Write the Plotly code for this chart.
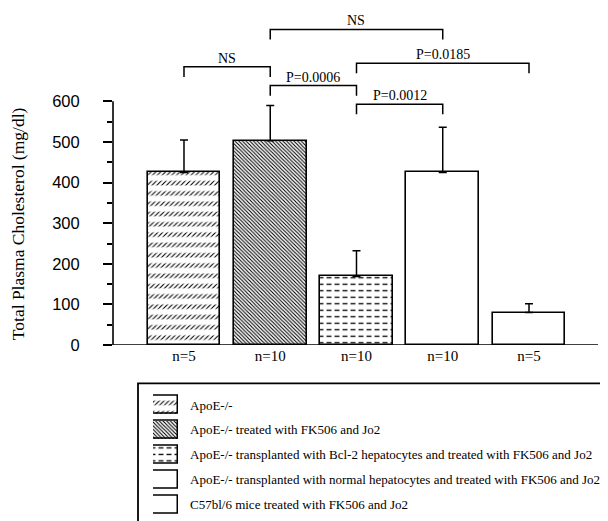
import plotly.graph_objects as go

# ---------------- data ----------------
groups = [0, 1, 2, 3, 4]
n_labels = ["n=5", "n=10", "n=10", "n=10", "n=5"]
cholesterol = [425, 503, 169, 425, 80]
sem = [80, 87, 63, 111, 22]

legend_labels = [
    "ApoE-/-",
    "ApoE-/- treated with FK506 and Jo2",
    "ApoE-/- transplanted with Bcl-2 hepatocytes and treated with FK506 and Jo2",
    "ApoE-/- transplanted with normal hepatocytes and treated with FK506 and Jo2",
    "C57bl/6 mice treated with FK506 and Jo2",
]

# significance brackets: (left group, right group, height, label)
br_left = [0, 1, 1, 2, 2]
br_right = [1, 2, 3, 4, 3]
br_height = [685, 639, 777, 694, 593]
br_label = ["NS", "P=0.0006", "NS", "P=0.0185", "P=0.0012"]
br_drop = 25

y_ticks = [0, 100, 200, 300, 400, 500, 600]
y_minor = [50, 150, 250, 350, 450, 550]

# ---------------- styles ----------------
pat_shape = ["/", "\\", "-", "", ""]
pat_size = [3.4, 2.6, 6.5, 8, 8]
pat_solid = [0.32, 0.42, 0.2, 0.3, 0.3]
mask_shape = ["-", "", "|", "", ""]
mask_size = [10.3, 8, 8, 8, 8]
mask_solid = [0.56, 0.3, 0.38, 0.3, 0.3]

SERIF = "Liberation Serif, Times New Roman, serif"
SANS = "Liberation Sans, Arial, sans-serif"

fig = go.Figure()

# base hatch layer
fig.add_trace(go.Bar(
    x=groups, y=cholesterol, width=0.846,
    marker=dict(color="white", line=dict(width=0),
                pattern=dict(shape=pat_shape, size=pat_size, solidity=pat_solid,
                             fgcolor="black", bgcolor="white", fillmode="replace")),
    showlegend=False, hoverinfo="skip",
))
# mask + outline + error bars
fig.add_trace(go.Bar(
    x=groups, y=cholesterol, width=0.846,
    marker=dict(color="rgba(0,0,0,0)", line=dict(width=1.6, color="black"),
                pattern=dict(shape=mask_shape, size=mask_size, solidity=mask_solid,
                             fgcolor="white", bgcolor="rgba(0,0,0,0)", fillmode="replace")),
    error_y=dict(type="data", array=sem, arrayminus=[0] * len(sem), symmetric=False,
                 color="black", thickness=1.5, width=4),
    showlegend=False,
))

# legend swatches (second, hidden axes)
rows = list(range(len(legend_labels)))
fig.add_trace(go.Bar(
    x=[1] * len(rows), y=rows, orientation="h", width=0.72,
    xaxis="x2", yaxis="y2",
    marker=dict(color="white", line=dict(width=0),
                pattern=dict(shape=pat_shape, size=pat_size, solidity=pat_solid,
                             fgcolor="black", bgcolor="white", fillmode="replace")),
    showlegend=False, hoverinfo="skip",
))
fig.add_trace(go.Bar(
    x=[1] * len(rows), y=rows, orientation="h", width=0.72,
    xaxis="x2", yaxis="y2",
    marker=dict(color="rgba(0,0,0,0)", line=dict(width=1.5, color="black"),
                pattern=dict(shape=mask_shape, size=mask_size, solidity=mask_solid,
                             fgcolor="white", bgcolor="rgba(0,0,0,0)", fillmode="replace")),
    showlegend=False, hoverinfo="skip",
))

shapes = []
annotations = []

# y axis line from 0 to 600
shapes.append(dict(type="line", xref="x domain", yref="y", x0=0, x1=0,
                   y0=y_ticks[0], y1=y_ticks[-1], line=dict(color="black", width=1.6)))
# baseline
shapes.append(dict(type="line", xref="x domain", yref="y", x0=0, x1=1,
                   y0=0, y1=0, line=dict(color="black", width=1.6)))

# brackets
for a, b, h, lab in zip(br_left, br_right, br_height, br_label):
    shapes.append(dict(type="path", xref="x", yref="y",
                       path=f"M{a},{h - br_drop} L{a},{h} L{b},{h} L{b},{h - br_drop}",
                       line=dict(color="black", width=1.5)))
    annotations.append(dict(x=(a + b) / 2, y=h, xref="x", yref="y", text=lab,
                            showarrow=False, yanchor="bottom", yshift=-1,
                            font=dict(family=SERIF, size=14, color="black")))

# legend box
shapes.append(dict(type="rect", xref="paper", yref="paper",
                   x0=130 / 608, x1=1.05, y0=-0.05, y1=(521 - 382) / 521,
                   line=dict(color="black", width=1.8), fillcolor="rgba(0,0,0,0)"))

# legend text
for i, lab in enumerate(legend_labels):
    annotations.append(dict(x=180 / 608, y=i, xref="paper", yref="y2", text=lab,
                            showarrow=False, xanchor="left", yanchor="middle",
                            font=dict(family=SERIF, size=13.0, color="black")))

# y axis title
annotations.append(dict(x=10 / 608, y=(521 - 220) / 521, xref="paper", yref="paper",
                        text="Total Plasma Cholesterol (mg/dl)", textangle=-90,
                        showarrow=False, xanchor="center", yanchor="middle",
                        font=dict(family=SERIF, size=17.5, color="black")))

fig.update_layout(
    width=608, height=521,
    margin=dict(l=0, r=0, t=0, b=0),
    paper_bgcolor="white", plot_bgcolor="white",
    barmode="overlay", bargap=0,
    showlegend=False,
    xaxis=dict(domain=[105 / 608, 590 / 608], range=[-0.823, 4.80],
               tickvals=groups, ticktext=n_labels, ticks="",
               showline=False, showgrid=False, zeroline=False,
               tickfont=dict(family=SERIF, size=15, color="black")),
    yaxis=dict(domain=[(521 - 343) / 521, 1], range=[0, 829.8],
               tickvals=y_ticks, ticks="outside", ticklen=9, tickwidth=1.5,
               tickcolor="black", showline=False, showgrid=False, zeroline=False,
               ticklabelstandoff=20,
               minor=dict(tickvals=y_minor, ticks="outside", ticklen=5,
                          tickwidth=1.5, tickcolor="black", showgrid=False),
               tickfont=dict(family=SANS, size=16.5, color="black")),
    xaxis2=dict(domain=[145 / 608, 170 / 608], range=[0, 1], visible=False,
                anchor="y2"),
    yaxis2=dict(domain=[(521 - 517.6) / 521, (521 - 391.4) / 521],
                range=[4.5, -0.5], visible=False, anchor="x2"),
    shapes=shapes,
    annotations=annotations,
)

fig.write_html("out.html")
